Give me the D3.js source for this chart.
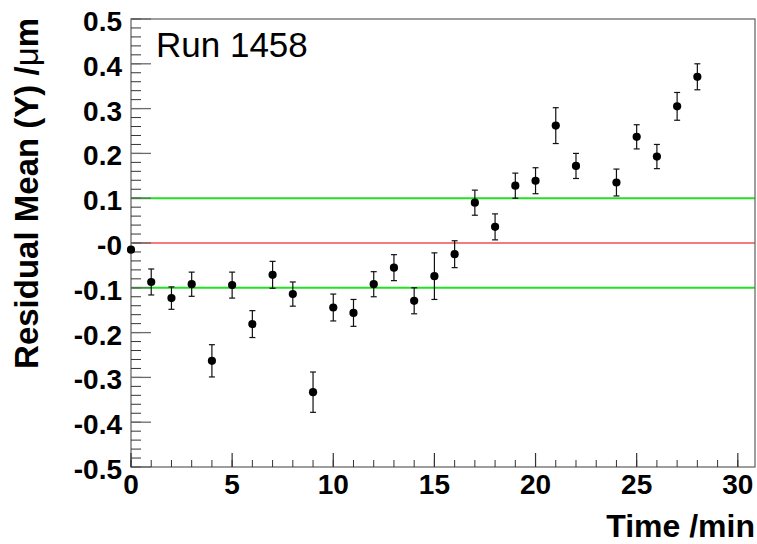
<!DOCTYPE html>
<html>
<head>
<meta charset="utf-8">
<script src="https://cdn.jsdelivr.net/npm/d3@7"></script>
<style>
  html, body { margin: 0; padding: 0; background: #fff; }
  svg { display: block; font-family: "Liberation Sans", Arial, Helvetica, sans-serif; }
</style>
</head>
<body>
<svg id="chart" width="757" height="544"></svg>
<script>
// Residual mean (Y) per minute of run 1458
const times  = [0, 1, 2, 3, 4, 5, 6, 7, 8, 9, 10, 11, 12, 13, 14, 15, 16, 17, 18, 19, 20, 21, 22, 24, 25, 26, 27, 28];
const means  = [-0.015, -0.087, -0.123, -0.092, -0.263, -0.094, -0.181, -0.071, -0.114, -0.333,
                -0.144, -0.156, -0.092, -0.055, -0.129, -0.074, -0.025, 0.090, 0.036, 0.128,
                0.139, 0.262, 0.172, 0.135, 0.237, 0.193, 0.305, 0.371];
const errors = [0.0, 0.029, 0.025, 0.027, 0.036, 0.029, 0.030, 0.030, 0.027, 0.045,
                0.030, 0.030, 0.028, 0.029, 0.029, 0.052, 0.030, 0.028, 0.029, 0.028,
                0.029, 0.040, 0.028, 0.030, 0.027, 0.027, 0.031, 0.029];

// Reference levels
const bandLevels = [0.1, -0.1];
const centerLevel = 0;

// Axis ticks and labels
const xTicks = [0, 5, 10, 15, 20, 25, 30];
const xTickLabels = ["0", "5", "10", "15", "20", "25", "30"];
const yTicks = [-0.5, -0.4, -0.3, -0.2, -0.1, 0, 0.1, 0.2, 0.3, 0.4, 0.5];
const yTickLabels = ["-0.5", "-0.4", "-0.3", "-0.2", "-0.1", "-0", "0.1", "0.2", "0.3", "0.4", "0.5"];

const runLabel = "Run 1458";
const xTitle = "Time /min";

const svg = d3.select("#chart");
const padL = 131, padR = 755, padT = 19, padB = 467;

const x = d3.scaleLinear().domain([0, 30.85]).range([padL, padR]);
const y = d3.scaleLinear().domain([-0.5, 0.5]).range([padB, padT]);

const frameColor = "#6a6a6a";

// Reference lines
svg.selectAll("line.band").data(bandLevels).join("line")
  .attr("class", "band")
  .attr("x1", padL).attr("x2", padR)
  .attr("y1", d => y(d)).attr("y2", d => y(d))
  .attr("stroke", "#22e022").attr("stroke-width", 2);

svg.append("line")
  .attr("x1", padL).attr("x2", padR)
  .attr("y1", y(centerLevel)).attr("y2", y(centerLevel))
  .attr("stroke", "#f57a7a").attr("stroke-width", 2);

// Frame
svg.append("rect")
  .attr("x", padL).attr("y", padT)
  .attr("width", padR - padL).attr("height", padB - padT)
  .attr("fill", "none").attr("stroke", frameColor).attr("stroke-width", 1.3);

// Y axis ticks (major every 0.1, minor every 0.02)
const yMinor = d3.range(-0.5, 0.5001, 0.02);
svg.append("g").selectAll("line").data(yMinor).join("line")
  .attr("x1", padL).attr("x2", padL + 10)
  .attr("y1", d => y(d)).attr("y2", d => y(d))
  .attr("stroke", "#333").attr("stroke-width", 1);
svg.append("g").selectAll("line").data(yTicks).join("line")
  .attr("x1", padL).attr("x2", padL + 20)
  .attr("y1", d => y(d)).attr("y2", d => y(d))
  .attr("stroke", frameColor).attr("stroke-width", 1.3);

// X axis ticks (major every 5, minor every 1)
const xMinor = d3.range(0, 31, 1);
svg.append("g").selectAll("line").data(xMinor).join("line")
  .attr("x1", d => x(d)).attr("x2", d => x(d))
  .attr("y1", padB).attr("y2", padB - 7)
  .attr("stroke", "#333").attr("stroke-width", 1);
svg.append("g").selectAll("line").data(xTicks).join("line")
  .attr("x1", d => x(d)).attr("x2", d => x(d))
  .attr("y1", padB).attr("y2", padB - 14)
  .attr("stroke", "#333").attr("stroke-width", 1.2);

// Tick labels
svg.append("g").selectAll("text").data(yTicks).join("text")
  .attr("x", 122).attr("y", d => y(d) + 12)
  .attr("text-anchor", "end")
  .attr("font-size", 28).attr("font-weight", "bold")
  .text((d, i) => yTickLabels[i]);

svg.append("g").selectAll("text").data(xTicks).join("text")
  .attr("x", d => x(d)).attr("y", 494)
  .attr("text-anchor", "middle")
  .attr("font-size", 28).attr("font-weight", "bold")
  .text((d, i) => xTickLabels[i]);

// Axis titles
svg.append("text")
  .attr("x", 755).attr("y", 537)
  .attr("text-anchor", "end")
  .attr("font-size", 32).attr("font-weight", "bold")
  .text(xTitle);

const yTitle = svg.append("text")
  .attr("transform", "translate(38,18) rotate(-90)")
  .attr("text-anchor", "end")
  .attr("font-size", 33).attr("font-weight", "bold");
yTitle.append("tspan").text("Residual Mean (Y) /");
yTitle.append("tspan").attr("font-weight", "normal").text("\u03bc");
yTitle.append("tspan").text("m");

// Run label
svg.append("text")
  .attr("x", 156).attr("y", 57)
  .attr("font-size", 35)
  .text(runLabel);

// Data points with error bars
const pts = times.map((t, i) => ({ t, v: means[i], e: errors[i] }));
const g = svg.append("g");
g.selectAll("line.err").data(pts.filter(d => d.e > 0)).join("line")
  .attr("class", "err")
  .attr("x1", d => x(d.t)).attr("x2", d => x(d.t))
  .attr("y1", d => y(d.v - d.e)).attr("y2", d => y(d.v + d.e))
  .attr("stroke", "#111").attr("stroke-width", 1.2);
["lo", "hi"].forEach(side => {
  g.selectAll("line.cap" + side).data(pts.filter(d => d.e > 0)).join("line")
    .attr("class", "cap" + side)
    .attr("x1", d => x(d.t) - 3).attr("x2", d => x(d.t) + 3)
    .attr("y1", d => y(side === "lo" ? d.v - d.e : d.v + d.e))
    .attr("y2", d => y(side === "lo" ? d.v - d.e : d.v + d.e))
    .attr("stroke", "#111").attr("stroke-width", 1.2);
});
g.selectAll("circle").data(pts).join("circle")
  .attr("cx", d => x(d.t)).attr("cy", d => y(d.v))
  .attr("r", 4.1).attr("fill", "#000");
</script>
</body>
</html>
